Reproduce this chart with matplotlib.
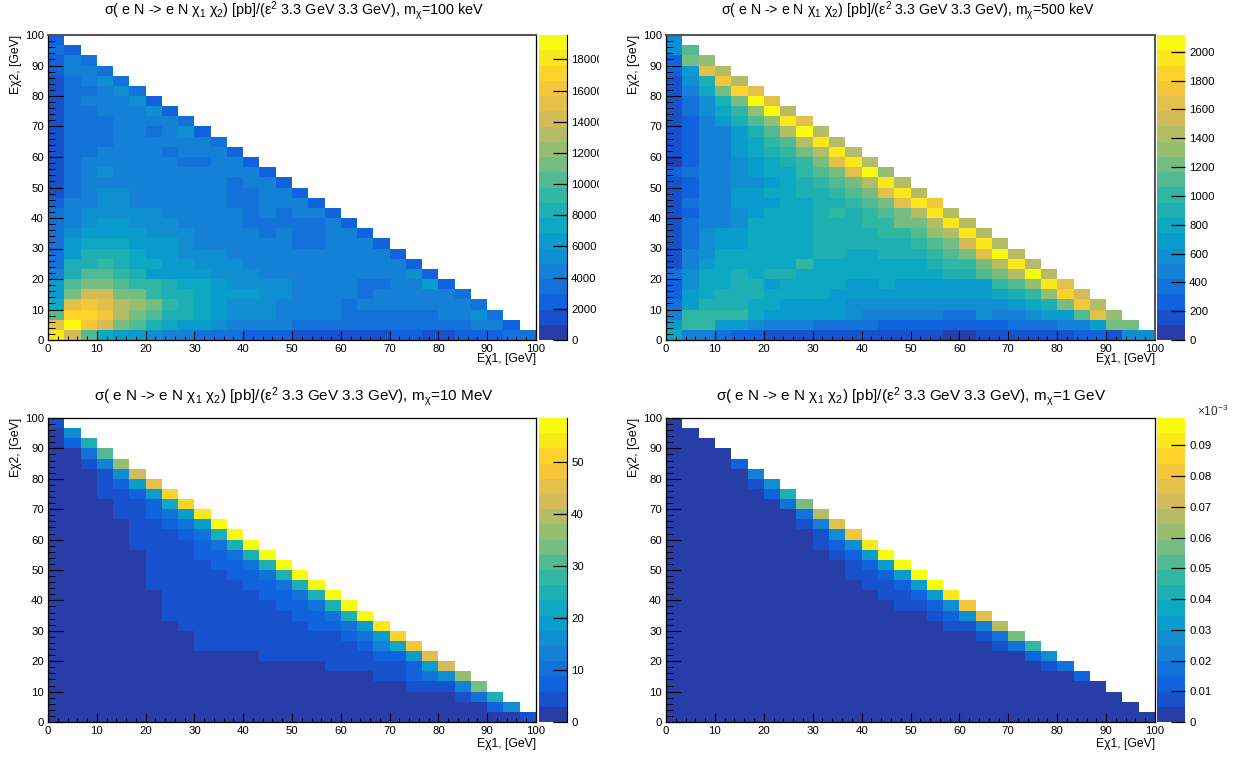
import numpy as np
import matplotlib
matplotlib.use("Agg")
import matplotlib.pyplot as plt
from matplotlib.colors import LinearSegmentedColormap, ListedColormap, BoundaryNorm
from matplotlib.ticker import MultipleLocator
from matplotlib.transforms import Bbox

plt.rcParams['font.family'] = ['Liberation Sans', 'DejaVu Sans']
plt.rcParams['mathtext.fontset'] = 'custom'
plt.rcParams['mathtext.rm'] = 'Liberation Sans'
plt.rcParams['mathtext.it'] = 'Liberation Sans'
plt.rcParams['mathtext.default'] = 'regular'

W, H = 1236, 758

# cell values: colour band number per bin,
# rows go from the bottom row (E2 = 0-3.3) upwards
bands_100kev = [
    [18,14,10,7,6,6,5,4,4,3,3,3,2,2,2,1,1,1,1,1,1,2,2,1,1,2,2,2,3,3],
    [15,19,16,14,11,10,8,7,6,6,5,4,4,4,4,3,3,3,3,3,3,3,3,3,3,3,4,4,2],
    [10,17,17,16,13,11,10,8,8,7,6,5,5,5,4,4,4,4,3,3,3,3,3,3,4,4,5,3],
    [7,15,16,15,13,12,11,9,8,7,6,5,5,5,4,4,4,4,3,4,4,4,4,4,4,4,3],
    [6,11,14,14,11,11,9,8,8,7,6,6,6,5,5,4,4,4,4,3,4,4,4,4,4,3],
    [6,10,11,11,10,9,9,8,7,7,6,5,5,5,5,4,4,4,4,3,3,4,4,6,2],
    [4,8,10,10,9,8,6,6,6,6,5,5,5,4,4,4,4,4,4,4,4,4,5,2],
    [3,8,8,9,8,7,7,6,6,5,5,5,4,4,4,4,4,4,4,4,4,4,2],
    [3,6,8,8,8,7,6,6,5,5,5,4,4,4,4,4,4,4,4,4,4,2],
    [3,6,7,7,7,6,6,6,5,4,4,4,4,4,4,3,3,4,4,4,2],
    [3,5,6,6,6,6,5,5,5,4,4,4,4,3,4,3,3,4,4,2],
    [3,4,5,6,6,5,5,5,4,4,4,4,3,3,3,3,3,4,2],
    [3,4,5,5,5,5,5,4,4,4,4,4,3,4,3,4,4,2],
    [2,4,4,5,5,4,4,4,4,4,4,3,3,4,4,4,2],
    [1,3,4,5,5,4,4,4,4,4,4,3,3,4,4,2],
    [1,3,4,4,4,4,4,4,4,4,4,3,4,4,2],
    [1,3,4,5,4,4,4,4,4,4,4,4,4,2],
    [1,3,4,4,4,4,4,4,3,3,4,4,2],
    [1,3,3,4,4,4,4,3,4,4,4,2],
    [1,3,3,3,4,4,4,4,4,4,3],
    [1,3,3,3,4,4,3,4,5,2],
    [1,3,3,3,4,4,4,4,3],
    [1,3,3,4,4,4,5,2],
    [1,3,4,4,4,5,2],
    [1,3,3,4,5,3],
    [1,3,4,5,3],
    [2,4,4,3],
    [2,4,3],
    [3,2],
    [2],
]

bands_500kev = [
    [7,4,4,3,2,2,1,1,1,1,1,1,1,1,1,1,1,0,0,1,1,1,1,1,1,2,2,1,5,5],
    [6,9,9,6,6,5,4,4,4,3,3,3,3,2,2,2,2,2,2,2,2,3,3,3,4,4,6,11,11],
    [4,9,9,9,9,7,6,6,6,6,6,5,4,4,4,4,4,3,3,5,4,4,5,6,6,10,15,12],
    [3,6,8,8,8,7,7,6,6,6,6,5,5,5,5,5,5,5,5,5,5,6,7,8,11,16,13],
    [2,6,7,8,8,8,7,7,7,7,6,6,6,6,6,6,6,6,6,6,7,8,9,12,17,14],
    [2,5,7,7,8,8,6,7,7,7,7,6,6,7,6,6,6,6,6,6,9,10,12,18,15],
    [3,5,7,7,8,7,8,8,7,7,7,7,7,7,7,7,7,8,8,10,11,13,19,13],
    [1,4,6,7,7,7,7,7,9,7,7,7,7,7,7,7,8,9,9,11,13,18,13],
    [1,4,5,7,7,7,7,7,7,8,8,7,7,8,8,8,9,10,11,15,19,13],
    [1,3,5,6,6,7,7,7,7,8,8,8,8,8,8,9,10,11,14,18,13],
    [1,3,5,6,6,7,7,7,7,8,8,8,8,9,9,10,12,13,18,13],
    [1,3,4,4,5,7,7,7,7,8,8,8,9,9,11,11,13,18,13],
    [1,2,4,4,5,6,7,7,7,8,9,8,9,10,11,13,18,13],
    [1,3,4,4,6,6,6,7,7,8,8,9,10,11,15,18,16],
    [1,2,4,4,6,6,7,7,8,8,9,10,11,15,18,13],
    [1,2,4,4,5,5,6,7,8,9,10,11,13,18,13],
    [2,3,4,4,5,6,7,7,9,10,11,15,19,12],
    [0,2,4,4,5,6,7,8,9,11,15,18,13],
    [1,2,4,4,6,7,8,9,11,13,18,13],
    [1,2,4,4,6,7,9,10,13,18,13],
    [1,2,4,4,6,8,10,13,19,13],
    [1,2,4,6,8,10,12,18,15],
    [1,3,5,7,9,12,19,13],
    [1,3,5,8,11,19,15],
    [1,4,7,11,17,15],
    [1,5,8,16,13],
    [2,6,15,13],
    [2,11,12],
    [5,10],
    [5],
]

bands_10mev = [
    [0]*29 + [1],
    [0]*27 + [2,5],
    [0]*25 + [1,3,8],
    [0]*22 + [1,1,1,4,11],
    [0]*20 + [1,1,2,3,5,12],
    [0]*17 + [1,1,1,1,1,2,6,14],
    [0]*13 + [1,1,1,1,1,1,1,2,2,6,15],
    [0]*9 + [1,1,1,1,1,1,1,1,1,1,2,4,7,16],
    [0]*9 + [1,1,1,1,1,1,1,1,1,2,3,6,17],
    [0]*8 + [1,1,1,1,1,1,1,1,2,2,3,6,18],
    [0]*7 + [1,1,1,1,1,1,1,1,2,2,3,8,19],
    [0]*7 + [1,1,1,1,1,1,1,2,2,3,8,19],
    [0]*7 + [1,1,1,1,1,1,2,2,3,8,19],
    [0]*6 + [1,1,1,1,1,1,2,2,3,8,19],
    [0]*6 + [1,1,1,1,1,2,2,3,8,19],
    [0]*6 + [1,1,1,1,2,2,3,8,19],
    [0]*6 + [1,1,1,2,2,3,8,19],
    [0]*5 + [1,1,1,1,2,3,8,19],
    [0]*5 + [1,1,1,2,3,8,19],
    [0]*5 + [1,1,2,3,6,19],
    [0]*4 + [1,1,2,3,6,18],
    [0]*4 + [1,1,2,7,17],
    [0]*3 + [1,1,2,6,17],
    [0]*3 + [1,2,6,15],
    [0]*3 + [1,5,14],
    [0]*2 + [1,4,12],
    [0]*2 + [3,10],
    [0]*1 + [2,8],
    [0]*1 + [5],
    [1],
]

bands_1gev = [
    [0]*30,
    [0]*29,
    [0]*28,
    [0]*27,
    [0]*25 + [2],
    [0]*23 + [1,3],
    [0]*22 + [2,5],
    [0]*20 + [1,3,9],
    [0]*19 + [1,3,11],
    [0]*17 + [1,1,4,13],
    [0]*16 + [1,2,5,15],
    [0]*14 + [1,1,2,5,16],
    [0]*13 + [1,1,2,6,18],
    [0]*12 + [1,1,2,6,19],
    [0]*11 + [1,1,2,6,19],
    [0]*11 + [1,2,6,19],
    [0]*10 + [1,2,6,19],
    [0]*9 + [1,2,5,18],
    [0]*9 + [1,5,16],
    [0]*8 + [1,4,15],
    [0]*8 + [3,13],
    [0]*7 + [3,11],
    [0]*6 + [2,8],
    [0]*5 + [1,5],
    [0]*5 + [4],
    [0]*4 + [2],
    [0]*4,
    [0]*3,
    [0]*2,
    [0],
]

z_max = [19560, 2116, 58.5, 0.0989]
cbar_ticks = [
    [0, 2000, 4000, 6000, 8000, 10000, 12000, 14000, 16000, 18000],
    [0, 200, 400, 600, 800, 1000, 1200, 1400, 1600, 1800, 2000],
    [0, 10, 20, 30, 40, 50],
    [0, 0.01, 0.02, 0.03, 0.04, 0.05, 0.06, 0.07, 0.08, 0.09],
]
mass_labels = ["100 keV", "500 keV", "10 MeV", "1 GeV"]
all_bands = [bands_100kev, bands_500kev, bands_10mev, bands_1gev]

# pixel boxes of the panels: left, top, right, bottom, colour bar left, right
boxes = [
    (48, 35, 536, 340, 539, 567),
    (666, 35, 1155, 340, 1157, 1185),
    (48, 418, 536, 722, 539, 567),
    (666, 418, 1155, 722, 1157, 1185),
]
title_pos = [(294, 11), (908, 11), (294, 397), (911, 397)]
title_size = [10.4, 10.2, 11, 11]
xlabel_pad = [-0.5, -0.5, 1.5, 1.5]
dark_edge = [True, False, True, False]
thick_spines = [['top'], ['top', 'right'], [], []]

# ROOT kBird palette, 20 contours
bird_r = [0.2082, 0.0592, 0.0780, 0.0232, 0.1802, 0.5301, 0.8186, 0.9956, 0.9764]
bird_g = [0.1664, 0.3599, 0.5041, 0.6419, 0.7178, 0.7492, 0.7328, 0.7862, 0.9832]
bird_b = [0.5293, 0.8684, 0.8385, 0.7914, 0.6425, 0.4662, 0.3499, 0.1968, 0.0539]
bird = LinearSegmentedColormap.from_list("bird", list(zip(bird_r, bird_g, bird_b)))
cmap = ListedColormap([bird((i + 1) / 20) for i in range(20)])
cmap.set_bad((1, 1, 1, 0))

edges = np.linspace(0, 100, 31)


def px_axes(fig, x0, y0, x1, y1):
    return fig.add_axes([x0 / W, 1 - y1 / H, (x1 - x0) / W, (y1 - y0) / H])


fig = plt.figure(figsize=(W / 100, H / 100), dpi=100)

for i in range(4):
    x0, y0, x1, y1, c0, c1 = boxes[i]
    band = z_max[i] / 20

    grid = np.full((30, 30), np.nan)
    for j, row in enumerate(all_bands[i]):
        grid[j, :len(row)] = row
    values = (grid + 0.5) * band

    ax = px_axes(fig, x0, y0, x1, y1)
    norm = BoundaryNorm(np.arange(21) * band, 20)
    mesh = ax.pcolormesh(edges, edges, np.ma.masked_invalid(values), cmap=cmap, norm=norm)

    ax.set_xlim(0, 100)
    ax.set_ylim(0, 100)
    ax.xaxis.set_major_locator(MultipleLocator(10))
    ax.xaxis.set_minor_locator(MultipleLocator(2))
    ax.yaxis.set_major_locator(MultipleLocator(10))
    ax.yaxis.set_minor_locator(MultipleLocator(2))
    ax.tick_params(axis='x', which='major', direction='in', length=6.5, width=0.8, labelsize=8.2, pad=3)
    ax.tick_params(axis='x', which='minor', direction='in', length=3.2, width=0.7)
    ax.tick_params(axis='y', which='major', direction='in', length=10.5, width=0.8, labelsize=8.2, pad=3)
    ax.tick_params(axis='y', which='minor', direction='in', length=5.2, width=0.7)
    for s in ax.spines.values():
        s.set_linewidth(0.9)
    for name in thick_spines[i]:
        ax.spines[name].set_linewidth(1.5)
        ax.spines[name].set_color('#555555')
    ax.set_xlabel("E\u03c71, [GeV]", loc='right', fontsize=8.8, labelpad=xlabel_pad[i])
    ax.set_ylabel("E\u03c72, [GeV]", loc='top', fontsize=8.8, labelpad=2)

    title = ("\u03c3( e N -> e N $\\chi_{1}$ $\\chi_{2}$) [pb]/($\\epsilon^{2}$ 3.3 GeV 3.3 GeV), "
             "m$_{\\chi}$=" + mass_labels[i])
    fig.text(title_pos[i][0] / W, 1 - title_pos[i][1] / H, title, ha='center', va='center',
             fontsize=title_size[i])

    cax = px_axes(fig, c0, y0, c1, y1)
    cbar = fig.colorbar(mesh, cax=cax, ticks=cbar_ticks[i], spacing='proportional')
    cbar.outline.set_visible(False)
    cbar.set_ticklabels([f"{t:g}" for t in cbar_ticks[i]])
    cax.tick_params(axis='y', which='major', direction='in', length=10, width=0.9, labelsize=8.2, pad=3)
    cax.minorticks_off()
    if dark_edge[i]:
        cax.spines['right'].set_visible(True)
        cax.spines['right'].set_linewidth(0.8)
    # the long labels of the first panel are cut off by the pad edge in the original
    if i == 0:
        for t in cax.yaxis.get_major_ticks():
            t.label2.set_clip_box(Bbox.from_extents(0, 0, 598.5, H))
            t.label2.set_clip_on(True)

fig.text(1197 / W, 1 - 411 / H, "$\\times$10$^{-3}$", ha='left', va='center', fontsize=8.6, color='#333333')

fig.savefig("out.png", dpi=100)
